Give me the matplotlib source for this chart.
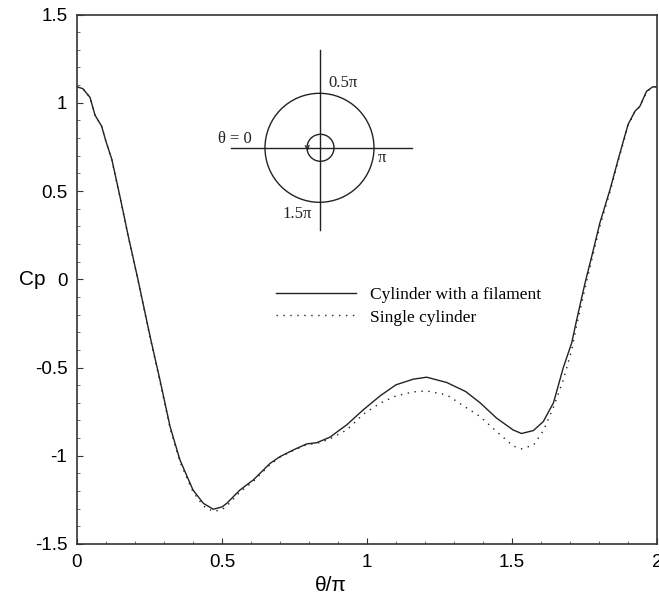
import numpy as np
import matplotlib
matplotlib.use('Agg')
import matplotlib.pyplot as plt
from matplotlib.patches import Circle, FancyArrowPatch

# pressure coefficient around the main cylinder, theta/pi from 0 to 2
theta = [0.00, 0.02, 0.045, 0.062, 0.085, 0.10, 0.12, 0.148, 0.177, 0.21,
         0.252, 0.286, 0.321, 0.355, 0.40, 0.436, 0.47, 0.50, 0.516, 0.562,
         0.608, 0.666, 0.70, 0.746, 0.792, 0.827, 0.872, 0.93, 0.987, 1.045,
         1.10, 1.16, 1.206, 1.275, 1.34, 1.39, 1.447, 1.504, 1.533, 1.574,
         1.608, 1.643, 1.677, 1.706, 1.723, 1.752, 1.775, 1.803, 1.838, 1.866,
         1.90, 1.924, 1.941, 1.964, 1.985, 2.00]

cp_filament = [1.09, 1.08, 1.03, 0.93, 0.867, 0.78, 0.68, 0.47, 0.243, 0.00,
               -0.324, -0.57, -0.835, -1.024, -1.194, -1.27, -1.303, -1.29, -1.27, -1.194,
               -1.137, -1.043, -1.005, -0.967, -0.933, -0.926, -0.895, -0.825, -0.74, -0.661,
               -0.598, -0.566, -0.555, -0.585, -0.636, -0.70, -0.787, -0.854, -0.874, -0.857,
               -0.806, -0.70, -0.50, -0.36, -0.23, -0.02, 0.13, 0.319, 0.508, 0.678,
               0.876, 0.952, 0.98, 1.065, 1.09, 1.09]

cp_single = [1.09, 1.08, 1.03, 0.93, 0.865, 0.78, 0.675, 0.465, 0.24, -0.005,
             -0.33, -0.58, -0.845, -1.035, -1.205, -1.285, -1.316, -1.305, -1.285, -1.205,
             -1.145, -1.05, -1.008, -0.97, -0.937, -0.93, -0.905, -0.854, -0.765, -0.702,
             -0.661, -0.638, -0.633, -0.655, -0.725, -0.778, -0.863, -0.945, -0.961, -0.94,
             -0.858, -0.725, -0.57, -0.40, -0.26, -0.05, 0.11, 0.30, 0.495, 0.668,
             0.87, 0.95, 0.978, 1.06, 1.09, 1.09]

xticks = [0, 0.5, 1, 1.5, 2]
xticklabels = ['0', '0.5', '1', '1.5', '2']
yticks = [-1.5, -1, -0.5, 0, 0.5, 1, 1.5]
yticklabels = ['-1.5', '-1', '-0.5', '0', '0.5', '1', '1.5']

W, H = 659, 601
fig = plt.figure(figsize=(W / 100, H / 100), dpi=100)
ax = fig.add_axes([77 / W, 1 - 544 / H, 580 / W, 529.5 / H])

sans = 'Liberation Sans'
serif = 'Liberation Serif'
ink = '#222222'

ax.plot(theta, cp_filament, color=ink, lw=1.0, label='Cylinder with a filament')
ax.plot(theta, cp_single, color=ink, lw=1.0, linestyle=(0, (1, 4)),
        label='Single cylinder')

ax.set_xlim(0, 2)
ax.set_ylim(-1.5, 1.5)
ax.set_xticks(xticks)
ax.set_xticklabels(xticklabels, fontfamily=sans, fontsize=13.5)
ax.set_yticks(yticks)
ax.set_yticklabels(yticklabels, fontfamily=sans, fontsize=13.5)
ax.set_xticks(np.arange(0, 2.01, 0.1), minor=True)
ax.set_yticks(np.arange(-1.5, 1.51, 0.1), minor=True)
ax.tick_params(which='major', direction='in', length=4, width=0.8, color='#333333', pad=7)
ax.tick_params(which='minor', direction='in', length=2.2, width=0.6, color='#555555')
ax.tick_params(top=False, right=False, which='both')
for s in ax.spines.values():
    s.set_color('#333333')
    s.set_linewidth(1.2)

ax.set_xlabel('θ/π', fontfamily=sans, fontsize=15, va='top')
ax.xaxis.set_label_coords(0.438, -0.06)
ax.set_ylabel('Cp', fontfamily=sans, fontsize=15, rotation=0, ha='center', va='center')
ax.yaxis.set_label_coords(-0.078, 0.5)

leg = ax.legend(loc='upper left', bbox_to_anchor=(0.343, 0.485), frameon=False,
                prop={'family': serif, 'size': 12.5}, handlelength=4.6,
                handletextpad=0.8, labelspacing=0.35, borderpad=0, borderaxespad=0)

# inset sketch of the angle convention, drawn in pixel units
ins = fig.add_axes([200 / W, 1 - 240 / H, 230 / W, 200 / H])
ins.set_xlim(200, 430)
ins.set_ylim(240, 40)
ins.axis('off')
ins.patch.set_alpha(0)
cx, cy = 319.5, 147.8
ins.plot([230.5, 412], [cy, cy], color=ink, lw=1.0)
ins.plot([cx, cx], [50, 230], color=ink, lw=1.0)
ins.add_patch(Circle((cx, cy), 54.5, fill=False, color=ink, lw=1.0))
ins.add_patch(Circle((cx + 1, cy), 13.5, fill=False, color=ink, lw=1.0))
ins.add_patch(FancyArrowPatch((307.2, cy - 2), (307.8, cy + 3), arrowstyle='->',
                              mutation_scale=7, color=ink, lw=0.9))
ins.text(328, 83, '0.5π', fontfamily=serif, fontsize=12, ha='left', va='center', color=ink)
ins.text(252, 139, 'θ = 0', fontfamily=serif, fontsize=12, ha='right', va='center', color=ink)
ins.text(377.5, 157.5, 'π', fontfamily=serif, fontsize=12, ha='left', va='center', color=ink)
ins.text(312, 214, '1.5π', fontfamily=serif, fontsize=12, ha='right', va='center', color=ink)

fig.savefig('out.png', dpi=100)
